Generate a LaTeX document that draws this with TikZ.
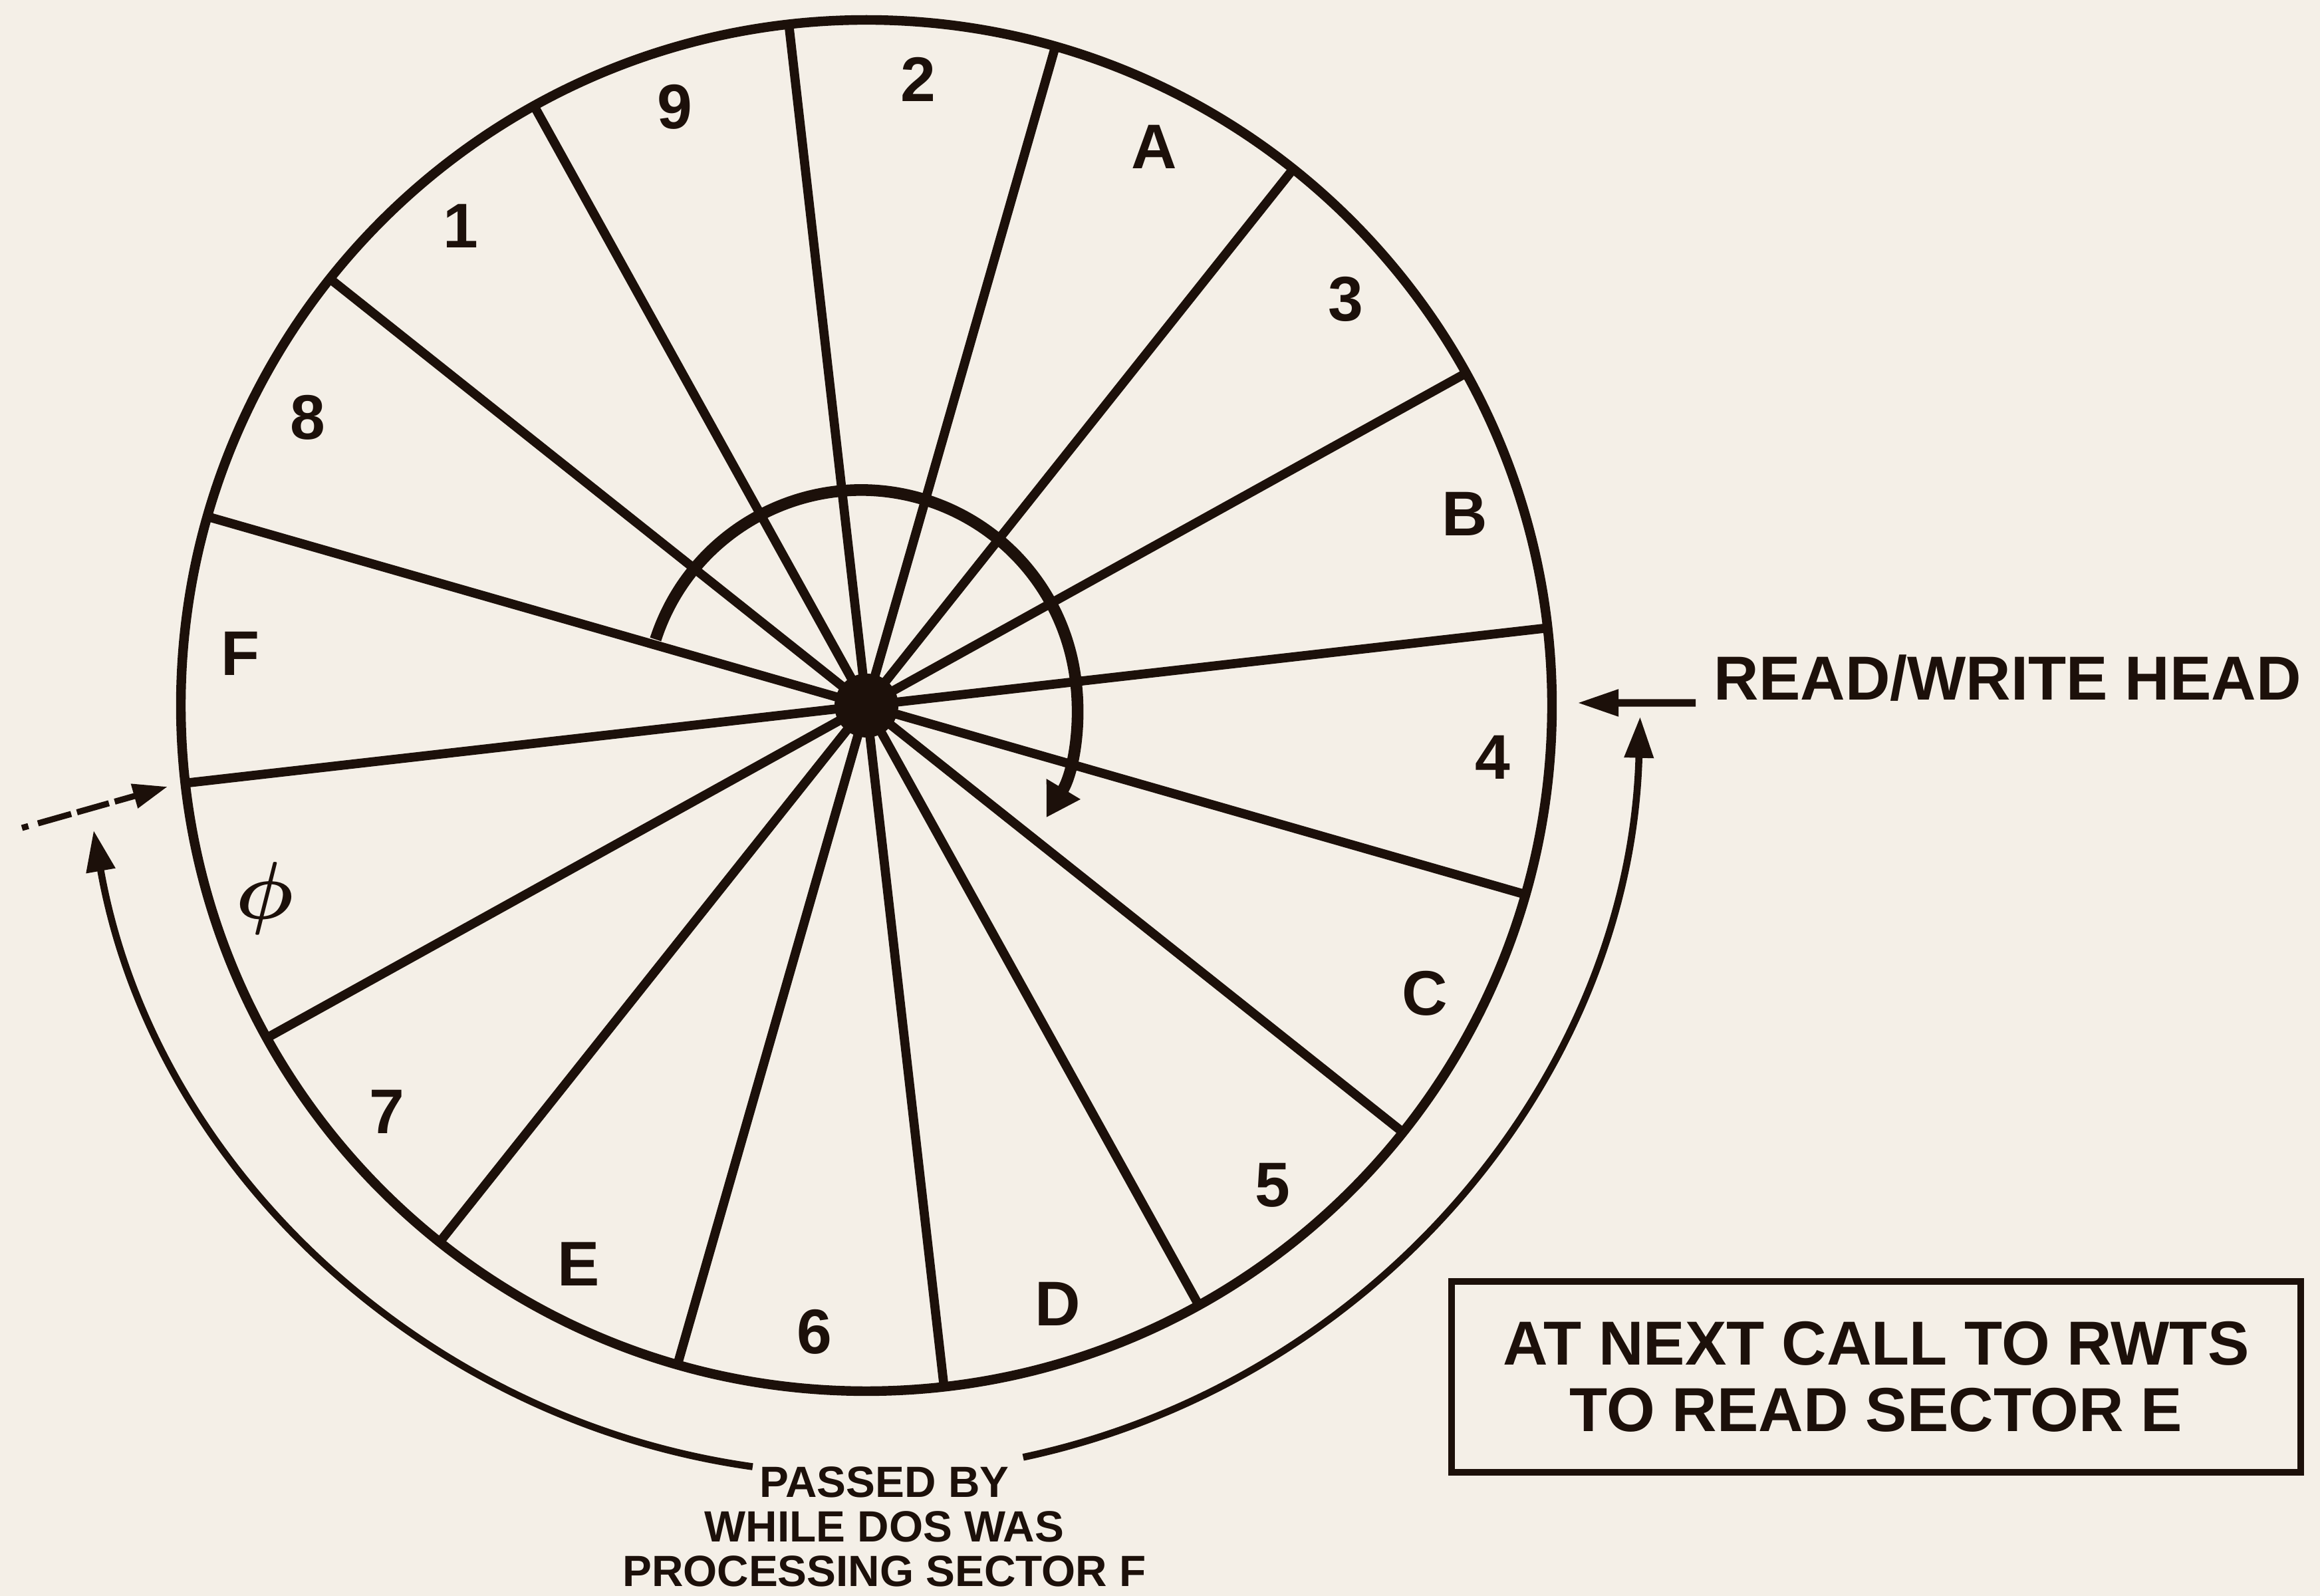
\documentclass[tikz,border=0pt]{standalone}
\usepackage{fontspec}
\setmainfont{Liberation Sans}
\usetikzlibrary{arrows.meta,calc}
\definecolor{paper}{RGB}{244,239,231}
\definecolor{ink}{RGB}{28,16,10}
\begin{document}
\begin{tikzpicture}[
  rim/.style={draw=ink, line width=4.1pt},
  spoke/.style={draw=ink, line width=3.9pt},
  sectorlabel/.style={font=\fontsize{27}{30}\selectfont\bfseries, text=ink, inner sep=0pt},
  bigtext/.style={font=\fontsize{26.6}{28.5}\selectfont\bfseries, text=ink},
  smalltext/.style={font=\fontsize{18.7}{19}\selectfont\bfseries, text=ink},
  passedarc/.style={draw=ink, line width=3pt, -{Triangle[length=0.62cm,width=0.42cm]}},
  headarrow/.style={draw=ink, line width=3.2pt, -{Triangle[length=0.62cm,width=0.38cm]}},
  turnarrow/.style={draw=ink, line width=5pt, -{Triangle[length=0.5cm,width=0.56cm]}},
]
\fill[paper] (0,0) rectangle (34.89,24);
\useasboundingbox (0,0) rectangle (34.89,24);

% disk
\coordinate (C) at (13.03,13.39);
\draw[rim] (C) circle (10.31);
\foreach \a in {6.5,29,...,351.5}
  \draw[spoke] (C) -- ($(C)+(\a:10.31)$);
\fill[ink] (C) circle (0.48);

% sector labels
\foreach \ang/\t [count=\i] in {17.75/B, 40.25/3, 62.75/A, 85.25/2, 107.75/9, 130.25/1, 152.75/8, 175.25/F, 220.25/7, 242.75/E, 265.25/6, 287.75/D, 310.25/5, 332.75/C, 355.25/4}
  \node[sectorlabel] (s\i) at ($(C)+(\ang:9.45)$) {\t};
\node[text=ink, inner sep=0pt, font=\fontsize{24.88}{28}\selectfont\boldmath] (sphi) at ($(C)+(197.75:9.5)$) {\scalebox{1.4}{$\phi$}};

% rotation arrow
\coordinate (C2) at (12.95,13.38);
\draw[turnarrow] ($(C2)+(162:3.25)$) arc[start angle=162, end angle=-31, radius=3.25];

% read/write head
\node[bigtext, anchor=base west, inner sep=0pt] (rw) at (25.77,13.47) {READ/WRITE HEAD};
\coordinate (rwtip) at (23.72,13.43);
\draw[headarrow] ([xshift=-0.27cm, yshift=-0.04cm]rw.base west) -- (rwtip);

% dashed arrow at left
\coordinate (dstart) at (0.33,11.55);
\coordinate (dend) at (2.52,12.17);
\draw[draw=ink, line width=2.6pt, dash pattern=on 0.1cm off 0.15cm on 0.52cm off 0.09cm on 0.5cm off 0.09cm on 3cm off 0.1cm, -{Triangle[length=0.52cm,width=0.36cm]}] (dstart) -- (dend);

% passed-by arcs
\coordinate (O) at (12.95,13.55);
\draw[passedarc] ($(O)+(-78:11.72)$) arc[start angle=-78, end angle=-1.6, radius=11.72];
\draw[passedarc] ($(O)+(-98:11.72)$) arc[start angle=-98, end angle=-170, radius=11.72];
\node[smalltext, align=center, anchor=north, inner sep=0pt] (passed) at (13.30,1.95) {PASSED BY\\WHILE DOS WAS\\PROCESSING SECTOR F};

% box
\node[bigtext, draw=ink, line width=3pt, minimum width=12.77cm, minimum height=2.87cm, align=center] (box) at (28.215,3.295) {AT NEXT CALL TO RWTS\\TO READ SECTOR E};
\end{tikzpicture}
\end{document}
